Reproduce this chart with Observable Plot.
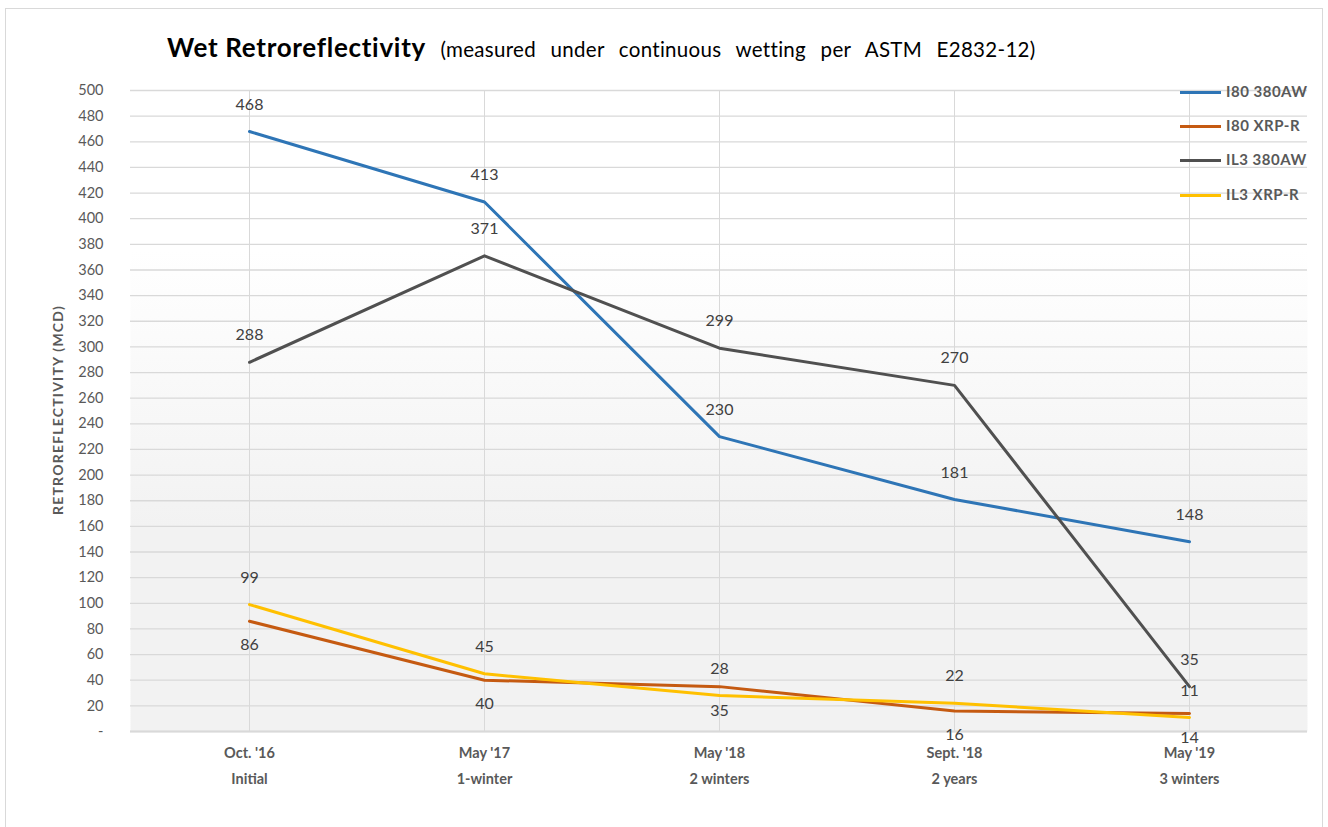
<!DOCTYPE html>
<html>
<head>
<meta charset="utf-8">
<script src="https://cdn.jsdelivr.net/npm/d3@7"></script>
<script src="https://cdn.jsdelivr.net/npm/@observablehq/plot@0.6"></script>
<style>
  html, body { margin: 0; padding: 0; background: #fff; }
  #wrap { position: relative; width: 1328px; height: 827px; overflow: hidden; font-family: Lato, "Open Sans", sans-serif; }
  #border { position: absolute; left: 5px; top: 8px; width: 1318px; height: 830px; border: 1px solid #d9d9d9; box-sizing: border-box; }
  #chart { position: absolute; left: 0; top: 0; }
  #title { position: absolute; left: 167px; top: 30px; white-space: nowrap; color: #000; line-height: 34px; }
  #title b { font-size: 26px; font-weight: 700; letter-spacing: 0.7px; }
  #title span { font-size: 20.5px; word-spacing: 9px; letter-spacing: 0.3px; }
  #ylabel { position: absolute; left: 57px; top: 410px; transform: translate(-50%, -50%) rotate(-90deg); font-size: 14px; font-weight: 700; color: #595959; white-space: nowrap; letter-spacing: 1.2px; }
  #legend { position: absolute; left: 1180px; top: 82px; }
  .li { position: absolute; left: 0; height: 20px; width: 150px; white-space: nowrap; }
  .li i { position: absolute; left: 0; top: 9px; width: 41px; height: 3px; }
  .li span { position: absolute; left: 46px; top: 0px; font-size: 15px; font-weight: 700; color: #595959; letter-spacing: 0.5px; }
</style>
</head>
<body>
<div id="wrap">
  <div id="border"></div>
  <div id="chart"></div>
  <div id="title"><b>Wet Retroreflectivity</b><span> (measured under continuous wetting per ASTM E2832-12)</span></div>
  <div id="ylabel">RETROREFLECTIVITY (MCD)</div>
  <div id="legend"></div>
</div>
<script>
const dates = ["Oct. '16", "May '17", "May '18", "Sept. '18", "May '19"];
const phases = ["Initial", "1-winter", "2 winters", "2 years", "3 winters"];
const seriesNames = ["I80 380AW", "I80 XRP-R", "IL3 380AW", "IL3 XRP-R"];
const seriesColors = ["#2e75b6", "#c55a11", "#505050", "#ffc000"];
const i80_380aw = [468, 413, 230, 181, 148];
const i80_xrpr = [86, 40, 35, 16, 14];
const il3_380aw = [288, 371, 299, 270, 35];
const il3_xrpr = [99, 45, 28, 22, 11];
const yTicks = d3.range(0, 501, 20);

const seriesValues = [i80_380aw, i80_xrpr, il3_380aw, il3_xrpr];
const labelBelow = [false, true, false, false];
const rows = [];
seriesNames.forEach((s, k) => {
  seriesValues[k].forEach((v, i) => rows.push({series: s, date: dates[i], value: v, below: labelBelow[k]}));
});

const plot = Plot.plot({
  width: 1328,
  height: 827,
  marginLeft: 130,
  marginRight: 21,
  marginTop: 90,
  marginBottom: 96,
  style: {fontFamily: "Lato, 'Open Sans', sans-serif", background: "transparent"},
  x: {type: "point", domain: dates, padding: 0.5},
  y: {domain: [0, 500]},
  color: {domain: seriesNames, range: seriesColors},
  marks: [
    Plot.frame({fill: "#f2f2f2", stroke: "none"}),
    Plot.gridY(yTicks, {stroke: "#d9d9d9", strokeOpacity: 1, strokeWidth: 1.3}),
    Plot.gridX(dates, {stroke: "#d9d9d9", strokeOpacity: 1, strokeWidth: 1}),
    Plot.ruleY([0], {stroke: "#d9d9d9", strokeWidth: 2}),
    Plot.axisY(yTicks, {tickSize: 0, tickPadding: 27, fontSize: 14.5, color: "#595959", label: null,
      tickFormat: d => d === 0 ? "-" : String(d)}),
    Plot.axisX(dates, {tickSize: 0, tickPadding: 8, fontSize: 14.5, fontWeight: "bold", color: "#595959", label: null,
      lineHeight: 1.8, lineAnchor: "top",
      tickFormat: d => d + "\n" + phases[dates.indexOf(d)]}),
    Plot.line(rows, {x: "date", y: "value", z: "series", stroke: "series", strokeWidth: 3, strokeLinejoin: "round"}),
    Plot.text(rows.filter(d => !d.below), {x: "date", y: "value", text: d => String(d.value), dy: -27, fontSize: 16, fill: "#404040"}),
    Plot.text(rows.filter(d => d.below), {x: "date", y: "value", text: d => String(d.value), dy: 24, fontSize: 16, fill: "#404040"})
  ]
});
document.getElementById("chart").appendChild(plot);

// background gradient on the frame
const svg = d3.select(plot);
const defs = svg.insert("defs", ":first-child");
const g = defs.append("linearGradient").attr("id", "bggrad").attr("x1", 0).attr("y1", 0).attr("x2", 0).attr("y2", 1);
g.append("stop").attr("offset", "0.25").attr("stop-color", "#ffffff");
g.append("stop").attr("offset", "0.68").attr("stop-color", "#f2f2f2");
g.append("stop").attr("offset", "1").attr("stop-color", "#f2f2f2");
svg.select("[aria-label=frame]").attr("fill", "url(#bggrad)");
svg.select("[aria-label=frame] rect").attr("fill", "url(#bggrad)");

// legend
const legend = document.getElementById("legend");
const legendTops = [0, 34, 68, 103];
seriesNames.forEach((s, k) => {
  const d = document.createElement("div");
  d.className = "li";
  d.style.top = legendTops[k] + "px";
  d.innerHTML = `<i style="background:${seriesColors[k]}"></i><span>${s}</span>`;
  legend.appendChild(d);
});
</script>
</body>
</html>
